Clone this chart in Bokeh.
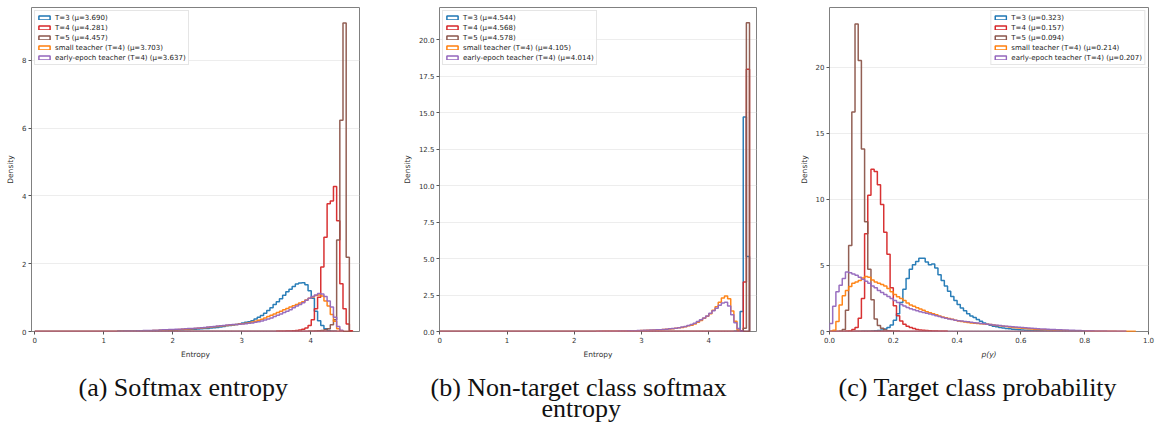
from bokeh.plotting import figure
from bokeh.layouts import row
from bokeh.models import Range1d, FixedTicker, PrintfTickFormatter, Title, ColumnDataSource
from bokeh.embed import file_html
from bokeh.resources import INLINE

# ---------------- data ----------------
SERIES = ["T=3", "T=4", "T=5", "small teacher (T=4)", "early-epoch teacher (T=4)"]
COLORS = ["#1f77b4", "#d62728", "#8c564b", "#ff7f0e", "#9467bd"]

# (a) Softmax entropy: density per bin, bins of width ln(100)/100 starting at bin index
a_bin_width = 4.605 / 100
a_means = [3.690, 4.281, 4.457, 3.703, 3.637]
a_starts = [26, 76, 86, 26, 26]
a_T3 = [0.005, 0.006, 0.007, 0.008, 0.01, 0.011, 0.012, 0.014, 0.016, 0.018, 0.02, 0.022, 0.025, 0.028,
        0.031, 0.034, 0.037, 0.04, 0.044, 0.048, 0.052, 0.056, 0.06, 0.065, 0.07, 0.075, 0.08, 0.086, 0.092, 0.1,
        0.11, 0.12, 0.135, 0.15,
        0.17, 0.18, 0.19, 0.21, 0.23, 0.25, 0.27, 0.29, 0.32, 0.37, 0.42, 0.47, 0.54, 0.62, 0.7, 0.8, 0.88, 0.97,
        1.07, 1.17,
        1.25, 1.33, 1.40, 1.43, 1.44, 1.38, 1.2, 0.98, 0.6, 0.32, 0.18, 0.08, 0.03, 0.01, 0.005]
a_T4 = [0.005, 0.008, 0.01, 0.012, 0.015, 0.02, 0.03, 0.045, 0.065, 0.1, 0.18, 0.35, 0.67, 1.01, 1.9, 2.78,
        3.77, 3.85, 4.28, 3.27, 1.41, 0.67, 0.22, 0.02]
a_T5 = [0.005, 0.01, 0.015, 0.02, 0.03, 0.05, 0.08, 0.2, 0.35, 2.7, 6.23, 9.1, 2.19]
a_small = [0.006, 0.007, 0.008, 0.009, 0.01, 0.012, 0.014, 0.016, 0.018, 0.02, 0.023, 0.026, 0.03, 0.034,
           0.038, 0.042, 0.046, 0.05, 0.055, 0.06, 0.065, 0.07, 0.076, 0.082, 0.088, 0.095, 0.1, 0.11, 0.12,
           0.13, 0.14, 0.15, 0.16, 0.17,
           0.18, 0.19, 0.2, 0.21, 0.22, 0.23, 0.24, 0.26, 0.28, 0.3, 0.33, 0.36, 0.4, 0.44, 0.48, 0.52, 0.56,
           0.6, 0.64, 0.68,
           0.72, 0.76, 0.8, 0.84, 0.88, 0.93, 0.98, 1.02, 1.06, 1.08, 1.05, 0.9, 0.75, 0.5, 0.3, 0.08, 0.01]
a_early = [0.01, 0.011, 0.012, 0.014, 0.016, 0.018, 0.02, 0.023, 0.026, 0.03, 0.033, 0.036, 0.04, 0.044,
           0.048, 0.052, 0.056, 0.06, 0.065, 0.07, 0.075, 0.08, 0.085, 0.09, 0.096, 0.1, 0.11, 0.12, 0.13,
           0.14, 0.15, 0.16, 0.17, 0.18,
           0.19, 0.2, 0.205, 0.21, 0.215, 0.22, 0.23, 0.24, 0.25, 0.27, 0.29, 0.31, 0.34, 0.37, 0.4, 0.44,
           0.48, 0.52, 0.56, 0.6,
           0.64, 0.7, 0.75, 0.8, 0.85, 0.92, 0.98, 1.03, 1.08, 1.12, 1.11, 1.03, 0.9, 0.72, 0.42, 0.15, 0.04]

# (b) Non-target class softmax entropy
b_bin_width = 4.605 / 99
b_means = [4.544, 4.568, 4.578, 4.105, 4.014]
b_starts = [94, 95, 96, 50, 50]
b_T3 = [0.01, 0.06, 1.37, 14.7, 5.14]
b_T4 = [0.01, 0.05, 3.4, 17.97]
b_T5 = [0.01, 0.23, 21.15]
b_small = [0.005, 0.007, 0.009, 0.011, 0.013, 0.016, 0.02, 0.024, 0.029, 0.034,
           0.04, 0.045, 0.05, 0.055, 0.06, 0.07, 0.08, 0.09, 0.1, 0.11, 0.12, 0.135,
           0.15, 0.17, 0.19, 0.22, 0.25, 0.28, 0.33, 0.39, 0.42, 0.52, 0.63, 0.76, 0.9, 1.05, 1.22, 1.45,
           1.7, 2.0, 2.3, 2.43, 2.25, 1.4, 0.7, 0.1]
b_early = [0.008, 0.01, 0.012, 0.014, 0.017, 0.02, 0.024, 0.028, 0.033, 0.038,
           0.045, 0.05, 0.056, 0.062, 0.07, 0.078, 0.087, 0.096, 0.105, 0.115, 0.125, 0.14,
           0.16, 0.18, 0.2, 0.23, 0.26, 0.3, 0.35, 0.41, 0.48, 0.57, 0.68, 0.8, 0.93, 1.07, 1.25, 1.42,
           1.6, 1.8, 1.95, 2.0, 1.75, 1.15, 0.6, 0.2, 0.02]

# (c) Target class probability
c_bin_width = 0.01
c_means = [0.323, 0.157, 0.094, 0.214, 0.207]
c_starts = [8, 5, 3, 0, 0]
c_T3 = [0.005, 0.008, 0.012, 0.018, 0.025, 0.035,
        0.05, 0.08, 0.12, 0.18, 0.3, 0.5, 0.85,
        1.35, 2.2, 3.2, 4.0, 4.7, 5.05, 5.3, 5.53, 5.53, 5.25,
        5.05, 5.1, 4.8, 4.3, 3.85, 3.45, 3.05, 2.65, 2.35, 2.05,
        1.78, 1.56, 1.35, 1.18, 1.05, 0.9, 0.77, 0.65, 0.55, 0.47,
        0.4, 0.35, 0.31, 0.27, 0.23, 0.2, 0.17, 0.15, 0.13, 0.11,
        0.1, 0.09, 0.08, 0.07, 0.06, 0.05, 0.045, 0.04, 0.035, 0.03,
        0.025, 0.022, 0.02, 0.017, 0.015, 0.012, 0.01, 0.008, 0.005]
c_T4 = [0.01, 0.03, 0.15, 0.3, 1.0, 2.5, 7.4, 10.3, 12.27, 12.1, 11.1, 9.6, 7.5, 5.85, 3.3, 1.95, 1.2,
        0.8, 0.55, 0.4, 0.3, 0.22, 0.16, 0.12, 0.09, 0.07, 0.05, 0.04, 0.03, 0.02, 0.015, 0.01]
c_T5 = [0.02, 0.15, 1.6, 6.5, 16.6, 23.25, 20.5, 13.8, 8.3, 4.7, 2.4, 0.95, 0.45, 0.25, 0.12, 0.06,
        0.03, 0.02, 0.01]
c_small = [0.02, 0.1, 0.75, 2.0, 2.7, 3.1, 3.4, 3.65, 3.75, 3.85, 4.05,
           4.15, 4.1, 3.9, 3.75, 3.65, 3.55, 3.45, 3.25, 3.0, 2.8,
           2.62, 2.5, 2.35, 2.15, 2.0, 1.9, 1.8, 1.7, 1.6, 1.5,
           1.42, 1.35, 1.27, 1.18, 1.1, 1.04, 0.98, 0.92, 0.86, 0.8,
           0.76, 0.72, 0.68, 0.65, 0.62, 0.6, 0.58, 0.56, 0.54, 0.52,
           0.49, 0.46, 0.43, 0.4, 0.37, 0.34, 0.31, 0.28, 0.26, 0.24,
           0.22, 0.2, 0.18, 0.16, 0.15, 0.14, 0.13, 0.12, 0.11, 0.1,
           0.09, 0.08, 0.07, 0.065, 0.06, 0.055, 0.05, 0.045, 0.04, 0.035,
           0.03, 0.028, 0.025, 0.022, 0.02, 0.018, 0.015, 0.012, 0.01, 0.008, 0.006, 0.005, 0.004,
           0.003, 0.002]
c_early = [0.6, 1.9, 3.0, 3.5, 4.0, 4.5, 4.45, 4.35, 4.25, 4.1, 3.95,
           3.8, 3.65, 3.45, 3.3, 3.1, 2.95, 2.8, 2.65, 2.5, 2.35,
           2.2, 2.05, 1.92, 1.82, 1.72, 1.64, 1.57, 1.5, 1.44, 1.38,
           1.32, 1.26, 1.2, 1.13, 1.06, 1.0, 0.95, 0.9, 0.86, 0.82,
           0.79, 0.76, 0.73, 0.7, 0.67, 0.64, 0.61, 0.58, 0.55, 0.52,
           0.5, 0.47, 0.45, 0.42, 0.4, 0.38, 0.36, 0.34, 0.32, 0.3,
           0.28, 0.26, 0.24, 0.22, 0.2, 0.19, 0.18, 0.17, 0.16, 0.15,
           0.14, 0.13, 0.12, 0.11, 0.1, 0.09, 0.08, 0.07, 0.06, 0.06,
           0.05, 0.05, 0.04, 0.04, 0.03, 0.03, 0.02, 0.02, 0.02, 0.01, 0.01, 0.01]

a_xticks = [0, 1, 2, 3, 4]
a_yticks = [0, 2, 4, 6, 8]
b_xticks = [0, 1, 2, 3, 4]
b_yticks = [0.0, 2.5, 5.0, 7.5, 10.0, 12.5, 15.0, 17.5, 20.0]
c_xticks = [0.0, 0.2, 0.4, 0.6, 0.8, 1.0]
c_yticks = [0, 5, 10, 15, 20]

# ---------------- drawing ----------------
TICK_FONT = "DejaVu Sans"
FRAME_H = 324


def bin_edges(start, width, n):
    return [(start + i) * width for i in range(n + 1)]


def step_xy(start, width, heights, x0):
    edges = bin_edges(start, width, len(heights))
    xs, ys = [x0, edges[0]], [0.0, 0.0]
    for i, h in enumerate(heights):
        xs += [edges[i], edges[i + 1]]
        ys += [h, h]
    xs.append(edges[-1])
    ys.append(0.0)
    return xs, ys


def caption_title(text, off, standoff, size="26px"):
    return Title(text=text, align="left", offset=off, text_font="Liberation Serif",
                 text_font_size=size, text_font_style="normal", text_color="#111111",
                 standoff=standoff)


def make_panel(series, starts, width, means, xr, yr, xticks, yticks, xlabel, xfmt, yfmt,
               legend_loc, captions, left, fw, right, italic_x=False):
    p = figure(frame_width=fw, frame_height=FRAME_H, x_range=Range1d(*xr), y_range=Range1d(*yr),
               output_backend="svg", toolbar_location=None, title=None,
               min_border_left=left, min_border_right=right, min_border_top=7, min_border_bottom=93)
    p.background_fill_color = "white"
    p.border_fill_color = "white"
    p.outline_line_color = "#808080"
    p.outline_line_width = 1
    p.xgrid.visible = False
    p.ygrid.grid_line_color = "#e9e9e9"
    p.ygrid.grid_line_width = 0.8

    for h, s, c in zip(series, starts, COLORS):
        xs, ys = step_xy(s, width, h, 0.0)
        p.line(xs, ys, line_color=c, line_width=1.5, line_alpha=0.95)
    # legend entries: hollow boxes; the bins' floor (zero-height boxes on the baseline)
    for h, s, m, c, name in zip(series, starts, means, COLORS, SERIES):
        e = bin_edges(s, width, len(h))
        src = ColumnDataSource(dict(left=e[:-1], right=e[1:], bottom=[0.0] * len(h)))
        p.quad(left="left", right="right", top="bottom", bottom="bottom", source=src,
               fill_alpha=0, line_color=c, line_width=1.5,
               legend_label=f"{name} (\u03bc={m:.3f})")

    for ax in (p.xaxis[0], p.yaxis[0]):
        ax.axis_line_color = None
        ax.major_tick_out = 3
        ax.major_tick_in = 0
        ax.major_tick_line_color = "#555555"
        ax.minor_tick_line_color = None
        ax.major_label_text_font = TICK_FONT
        ax.major_label_text_font_size = "7px"
        ax.major_label_text_color = "#333333"
        ax.major_label_standoff = 2
        ax.axis_label_text_font = TICK_FONT
        ax.axis_label_text_font_size = "7.5px"
        ax.axis_label_text_color = "#333333"
        ax.axis_label_text_font_style = "normal"
        ax.axis_label_standoff = 4
    p.xaxis.ticker = FixedTicker(ticks=xticks)
    p.yaxis.ticker = FixedTicker(ticks=yticks)
    p.xaxis.formatter = PrintfTickFormatter(format=xfmt)
    p.yaxis.formatter = PrintfTickFormatter(format=yfmt)
    p.xaxis.axis_label = xlabel
    p.yaxis.axis_label = "Density"
    if italic_x:
        p.xaxis.axis_label_text_font_style = "italic"

    lg = p.legend[0]
    lg.location = legend_loc
    lg.margin = 3
    lg.padding = 2
    lg.spacing = 1
    lg.label_height = 9
    lg.glyph_height = 5
    lg.glyph_width = 14
    lg.label_standoff = 4
    lg.label_text_font = TICK_FONT
    lg.label_text_font_size = "7px"
    lg.label_text_color = "#222222"
    lg.border_line_color = "#cccccc"
    lg.border_line_width = 0.8
    lg.background_fill_alpha = 0.85

    if len(captions) == 1:
        text, off = captions[0]
        p.add_layout(caption_title(text, off, 19), "below")
    else:
        # two-line caption: small spacer, then tightly stacked lines
        p.add_layout(caption_title(" ", 0, 6, size="1px"), "below")
        (t1, o1), (t2, o2) = captions
        p.add_layout(caption_title(t1, o1, 0), "below")
        p.add_layout(caption_title(t2, o2, -20), "below")
    return p


pa = make_panel([a_T3, a_T4, a_T5, a_small, a_early], a_starts, a_bin_width, a_means,
                (-0.048, 4.706), (0, 9.56), a_xticks, a_yticks, "Entropy", "%d", "%d",
                "top_left", [("(a) Softmax entropy", 47)], 31, 328, 20)
pb = make_panel([b_T3, b_T4, b_T5, b_small, b_early], b_starts, b_bin_width, b_means,
                (-0.005, 4.709), (0, 22.2), b_xticks, b_yticks, "Entropy", "%d", "%.1f",
                "top_left", [("(b) Non-target class softmax", -9), ("entropy", 102)], 60, 317, 20)
pc = make_panel([c_T3, c_T4, c_T5, c_small, c_early], c_starts, c_bin_width, c_means,
                (0, 1), (0, 24.5), c_xticks, c_yticks, "p(y)", "%.1f", "%d",
                "top_right", [("(c) Target class probability", 9)], 53, 319, 10, italic_x=True)

layout = row(pa, pb, pc)
open("out.html", "w").write(file_html(layout, INLINE))
